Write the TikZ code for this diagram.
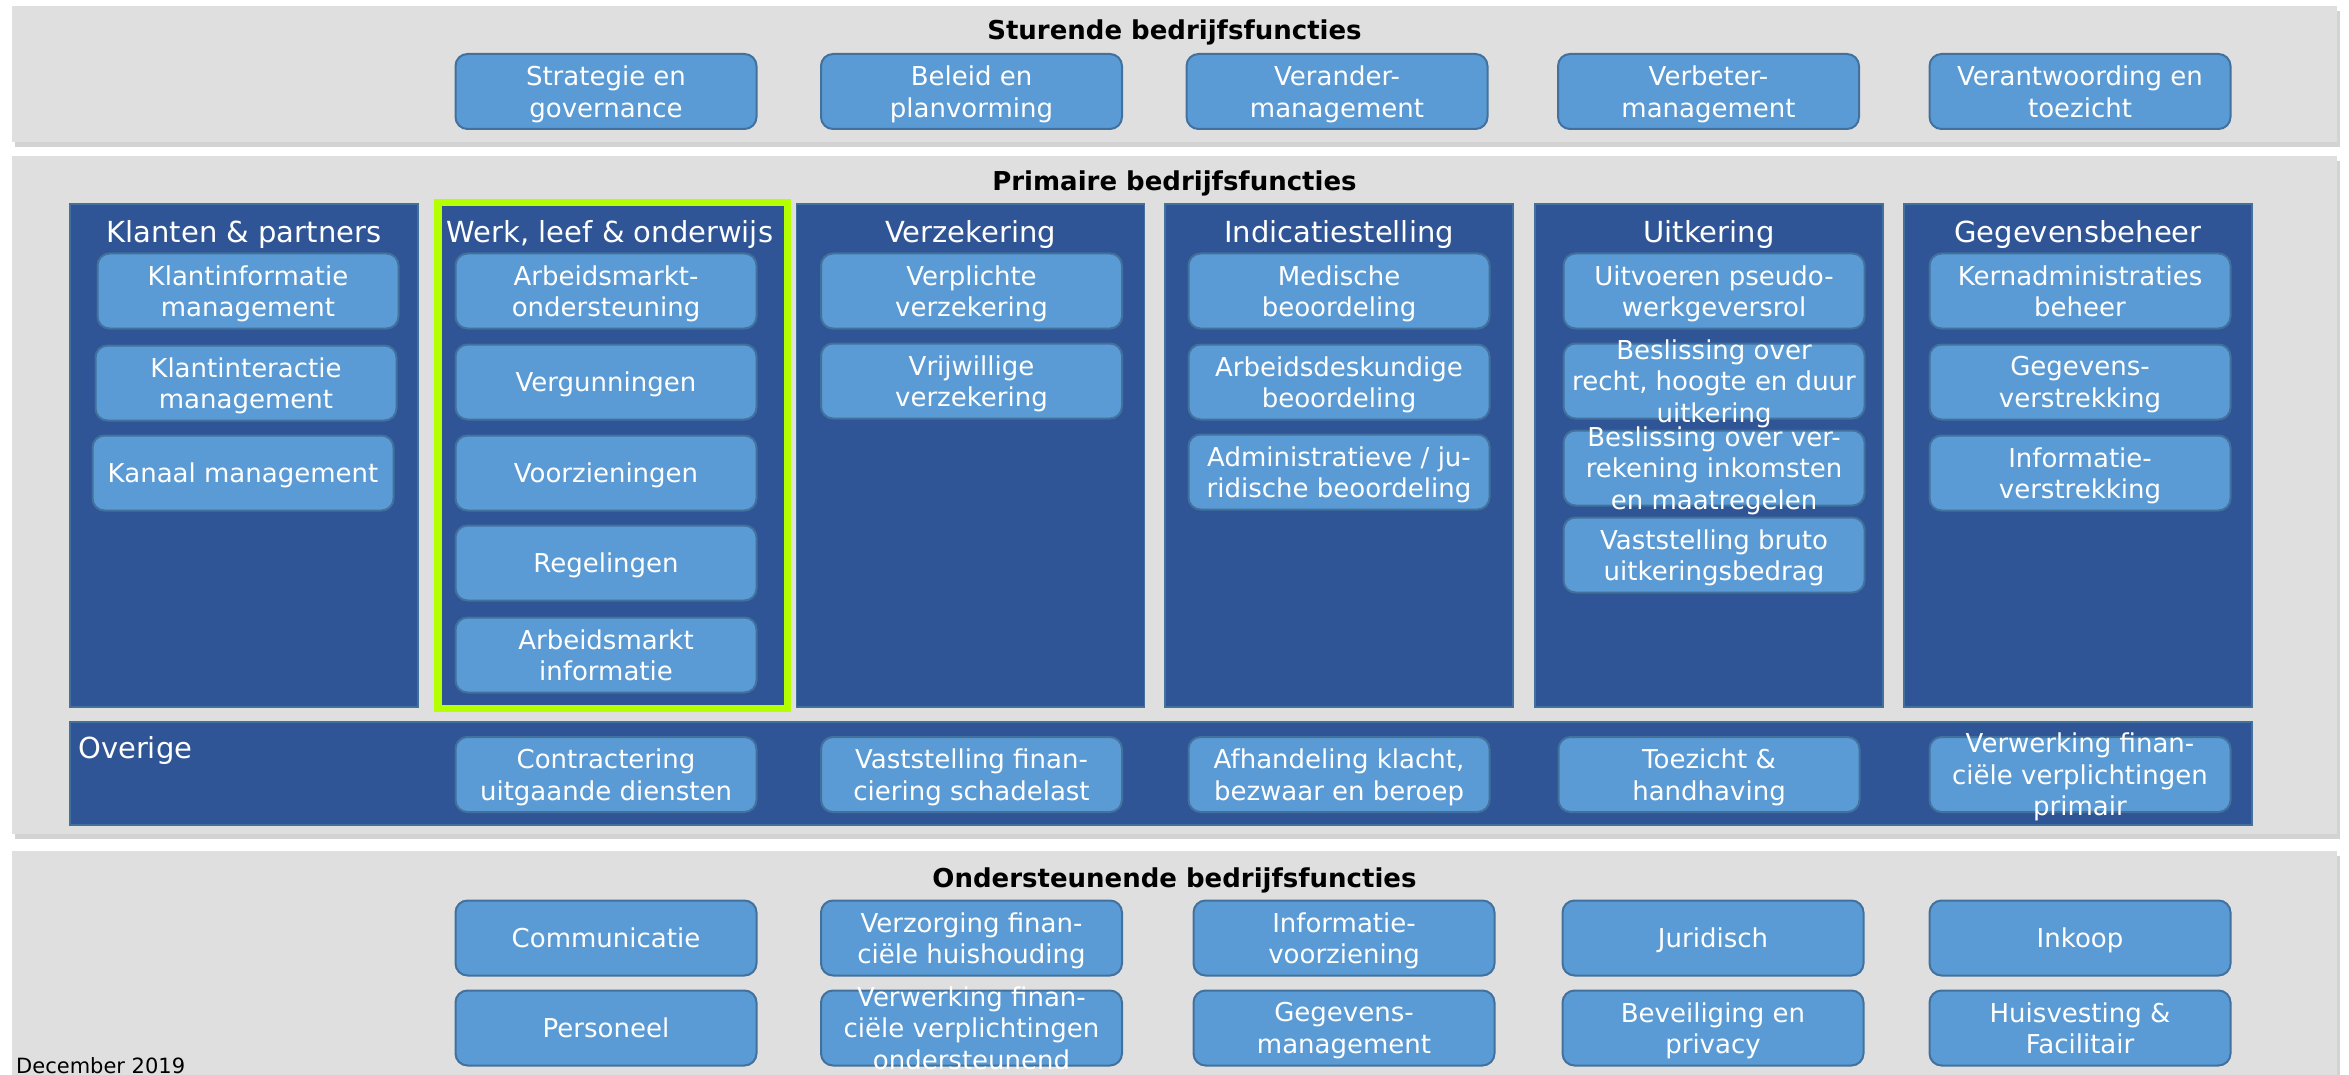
\documentclass[tikz,border=0pt]{standalone}
\usepackage{fontspec}
\setmainfont{DejaVu Sans}
\usetikzlibrary{shadows}
\definecolor{bandgray}{HTML}{DFDFDF}
\definecolor{coldark}{HTML}{2F5597}
\definecolor{boxlight}{HTML}{5B9BD5}
\definecolor{boxline}{HTML}{41719C}
\definecolor{limegreen}{HTML}{B4FF00}
\tikzstyle{bandbox}=[rectangle,fill=bandgray,inner sep=0pt,minimum width=2325pt,drop shadow={shadow xshift=3pt,shadow yshift=-5pt,opacity=0.35}]
\tikzstyle{colbox}=[rectangle,fill=coldark,draw=boxline,line width=1.5pt,inner sep=0pt,minimum width=348pt,minimum height=503pt]
\tikzstyle{funcbox}=[rectangle,rounded corners=12pt,fill=boxlight,draw=boxline,line width=2pt,inner sep=0pt,minimum width=301pt,minimum height=75pt,text=white,align=center,text depth=0pt,font=\fontsize{26}{31.5}\selectfont]
\tikzstyle{functext}=[inner sep=0pt,text=white,align=center,text depth=0pt,font=\fontsize{26}{31.5}\selectfont]
\tikzstyle{bandtitle}=[text depth=0pt,font=\bfseries\fontsize{26}{31}\selectfont]
\tikzstyle{coltitle}=[text=white,text depth=0pt,font=\fontsize{29}{35}\selectfont]

\begin{document}
\begin{tikzpicture}[x=1pt,y=-1pt]
  \useasboundingbox (0,0) rectangle (2349,1075);
  % sturend
  \node [bandbox, minimum height=136pt] (sturend) at (1174.5,74) {};
  \node [bandtitle] (sturendtitle) at (1174.5,30) {Sturende bedrijfsfuncties};
  \node [funcbox] (strategie) at (606,91.5) {Strategie en\\governance};
  \node [funcbox] (beleid) at (971.5,91.5) {Beleid en\\planvorming};
  \node [funcbox] (verandermgt) at (1337,91.5) {Verander-\\management};
  \node [funcbox] (verbetermgt) at (1708.5,91.5) {Verbeter-\\management};
  \node [funcbox] (verantwoording) at (2080,91.5) {Verantwoording en\\toezicht};
  % primair
  \node [bandbox, minimum height=678pt] (primair) at (1174.5,495) {};
  \node [bandtitle] (primairtitle) at (1174.5,181) {Primaire bedrijfsfuncties};
  \node [colbox] (klanten) at (244,455.5) {};
  \node [colbox] (werk) at (611,455.5) {};
  \node [colbox] (verzekering) at (970.5,455.5) {};
  \node [colbox] (indicatie) at (1339,455.5) {};
  \node [colbox] (uitkering) at (1709,455.5) {};
  \node [colbox] (gegevens) at (2078,455.5) {};
  \node [coltitle] (klantentitle) at (244,231) {Klanten \& partners};
  \node [coltitle] (werktitle) at (610,231) {Werk, leef \& onderwijs};
  \node [coltitle] (verzekeringtitle) at (970.5,231) {Verzekering};
  \node [coltitle] (indicatietitle) at (1339,231) {Indicatiestelling};
  \node [coltitle] (uitkeringtitle) at (1709,231) {Uitkering};
  \node [coltitle] (gegevenstitle) at (2078,231) {Gegevensbeheer};
  % klanten & partners
  \node [funcbox] (klantinfo) at (248,291) {Klantinformatie\\management};
  \node [funcbox] (klantinteractie) at (246,383) {Klantinteractie\\management};
  \node [funcbox] (kanaal) at (243,473) {Kanaal management};
  % werk, leef & onderwijs
  \node [funcbox] (arbeidsmarkt) at (606,291) {Arbeidsmarkt-\\ondersteuning};
  \node [funcbox] (vergunningen) at (606,382) {Vergunningen};
  \node [funcbox] (voorzieningen) at (606,473) {Voorzieningen};
  \node [funcbox] (regelingen) at (606,563) {Regelingen};
  \node [funcbox] (amiinfo) at (606,655) {Arbeidsmarkt\\informatie};
  \draw [limegreen, line width=7.5pt] (437.75,202.75) rectangle (787.25,708.25);
  % verzekering
  \node [funcbox] (verplicht) at (971.5,291) {Verplichte\\verzekering};
  \node [funcbox] (vrijwillig) at (971.5,381) {Vrijwillige\\verzekering};
  % indicatiestelling
  \node [funcbox] (medisch) at (1339,291) {Medische\\beoordeling};
  \node [funcbox] (arbeidsdesk) at (1339,382) {Arbeidsdeskundige\\beoordeling};
  \node [funcbox] (adminjur) at (1339,472) {Administratieve / ju-\\ridische beoordeling};
  % uitkering
  \node [funcbox] (pseudo) at (1714,291) {Uitvoeren pseudo-\\werkgeversrol};
  \node [funcbox] (beslissing1) at (1714,381) {};
  \node [functext] (beslissing1text) at (beslissing1) {Beslissing over\\recht, hoogte en duur\\uitkering};
  \node [funcbox] (beslissing2) at (1714,468) {};
  \node [functext] (beslissing2text) at (beslissing2) {Beslissing over ver-\\rekening inkomsten\\en maatregelen};
  \node [funcbox] (bruto) at (1714,555) {Vaststelling bruto\\uitkeringsbedrag};
  % gegevensbeheer
  \node [funcbox] (kernadmin) at (2080,291) {Kernadministraties\\beheer};
  \node [funcbox] (gegverstr) at (2080,382) {Gegevens-\\verstrekking};
  \node [funcbox] (infoverstr) at (2080,473) {Informatie-\\verstrekking};
  % overige
  \node [colbox, minimum width=2182pt, minimum height=103pt] (overige) at (1161,773.5) {};
  \node [coltitle, anchor=west, inner sep=0pt] (overigetitle) at (78,747) {Overige};
  \node [funcbox] (contractering) at (606,774.5) {Contractering\\uitgaande diensten};
  \node [funcbox] (schadelast) at (971.5,774.5) {Vaststelling finan-\\ciering schadelast};
  \node [funcbox] (klacht) at (1339,774.5) {Afhandeling klacht,\\bezwaar en beroep};
  \node [funcbox] (toezicht) at (1709,774.5) {Toezicht \&\\handhaving};
  \node [funcbox] (verwprimair) at (2080,774.5) {};
  \node [functext] (verwprimairtext) at (verwprimair) {Verwerking finan-\\ciële verplichtingen\\primair};
  % ondersteunend
  \node [bandbox, minimum height=240pt] (ondersteunend) at (1174.5,971) {};
  \node [bandtitle] (ondersteunendtitle) at (1174.5,878) {Ondersteunende bedrijfsfuncties};
  \node [funcbox] (communicatie) at (606,938) {Communicatie};
  \node [funcbox] (financhuish) at (971.5,938) {Verzorging finan-\\ciële huishouding};
  \node [funcbox] (infovoorz) at (1344,938) {Informatie-\\voorziening};
  \node [funcbox] (juridisch) at (1713,938) {Juridisch};
  \node [funcbox] (inkoop) at (2080,938) {Inkoop};
  \node [funcbox] (personeel) at (606,1028) {Personeel};
  \node [funcbox] (verwondst) at (971.5,1028) {};
  \node [functext] (verwondsttext) at (verwondst) {Verwerking finan-\\ciële verplichtingen\\ondersteunend};
  \node [funcbox] (gegmgt) at (1344,1028) {Gegevens-\\management};
  \node [funcbox] (beveiliging) at (1713,1028) {Beveiliging en\\privacy};
  \node [funcbox] (huisvesting) at (2080,1028) {Huisvesting \&\\Facilitair};
  \node [anchor=west, inner sep=0pt, font=\fontsize{21}{25}\selectfont] (datum) at (16,1066) {December 2019};
\end{tikzpicture}
\end{document}
